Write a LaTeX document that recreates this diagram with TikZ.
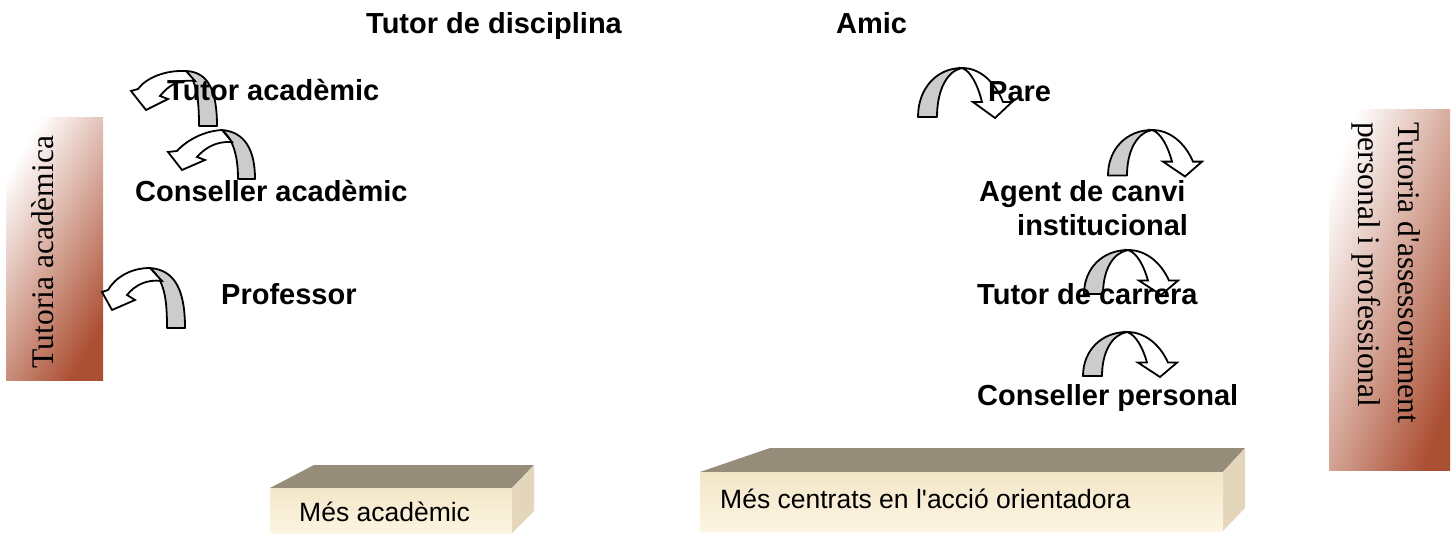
\documentclass[tikz,border=0pt]{standalone}
\usepackage{fontspec}
\setmainfont{Liberation Serif}[Ligatures=TeXOff]
\setsansfont{Liberation Sans}[Ligatures=TeXOff]
\definecolor{barbrown}{RGB}{172,80,52}
\definecolor{topface}{RGB}{150,140,122}
\definecolor{frontlight}{RGB}{253,245,226}
\definecolor{frontdark}{RGB}{243,230,200}
\definecolor{sideface}{RGB}{228,214,186}
\definecolor{ribbongray}{RGB}{204,204,204}
\tikzset{
  lbl/.style={font=\sffamily\bfseries\fontsize{29}{34}\selectfont, inner sep=0pt, anchor=base west},
  bartext/.style={font=\rmfamily\fontsize{31.5}{38}\selectfont, inner sep=0pt},
  boxtext/.style={font=\sffamily\fontsize{26.5}{32}\selectfont, inner sep=0pt, anchor=base west},
  ribbonback/.style={fill=ribbongray, draw=black, line width=1.8pt, line join=round},
  ribbonfront/.style={fill=white, draw=black, line width=1.8pt, line join=miter},
  curvedarrow/.pic={
    \path[ribbonback] (-44,49) .. controls (-44,20) and (-25,0) .. (0,0) .. controls (-15,3) and (-25,22) .. (-25,49) -- cycle;
    \path[ribbonfront] (0,0) .. controls (18,0) and (33,14) .. (41,34) -- (50,34) -- (33,50) -- (11,34) -- (20,34) .. controls (16,18) and (9,3) .. (0,0) -- cycle;
  }
}
\begin{document}
\begin{tikzpicture}[x=1pt,y=-1pt]
\useasboundingbox (0,0) rectangle (1456,534);
% side bars
\shade[left color=white, right color=barbrown, shading angle=60] (6,118) rectangle (103,381);
\shade[left color=white, right color=barbrown, shading angle=70] (1329,110) rectangle (1450,470);
\node[bartext, rotate=90, anchor=base] (lbar) at (53,252) {Tutoria acadèmica};
\node[bartext, rotate=-90, anchor=base west] (rbar1) at (1398,122) {Tutoria d'assessorament};
\node[bartext, rotate=-90, anchor=base west] (rbar2) at (1358,122) {personal i professional};
% left arrows
\path[ribbonback] (186,71) .. controls (208,72) and (217,90) .. (217,126) -- (199,126) .. controls (199,96) and (196,80) .. (186,71) -- cycle;
\path[ribbonfront] (186,71) .. controls (165,70) and (146,78) .. (138,89) -- (131,91) -- (146,110) -- (168,99) -- (160,96) .. controls (168,86) and (178,79) .. (195,81) -- cycle;
\path[ribbonback] (222,130) .. controls (245,132) and (255,150) .. (255,179) -- (238,179) .. controls (238,158) and (234,140) .. (222,130) -- cycle;
\path[ribbonfront] (222,130) .. controls (204,131) and (187,140) .. (177,151) -- (168,152) -- (182,170) -- (205,160) -- (197,157) .. controls (205,148) and (216,141) .. (232,142) -- cycle;
\path[ribbonback] (150,268) .. controls (175,270) and (185,290) .. (185,328) -- (167,328) .. controls (167,300) and (165,281) .. (150,268) -- cycle;
\path[ribbonfront] (150,268) .. controls (130,268) and (115,278) .. (108,290) -- (102,292) -- (112,310) -- (135,300) -- (127,295) .. controls (135,285) and (147,279) .. (162,281) -- cycle;
% right arrows
\pic at (962,68) {curvedarrow};
\pic[yscale=0.93] at (1152,130) {curvedarrow};
\pic[yscale=0.9] at (1128,250) {curvedarrow};
\pic[yscale=0.9] at (1127,332) {curvedarrow};
% labels
\node[lbl] (disc) at (366,34) {Tutor de disciplina};
\node[lbl] (amic) at (836,34) {Amic};
\node[lbl] (tacad) at (167,101) {Tutor acadèmic};
\node[lbl] (cacad) at (135,202) {Conseller acadèmic};
\node[lbl] (prof) at (221,305) {Professor};
\node[lbl] (pare) at (988,102) {Pare};
\node[lbl] (agent1) at (979,202) {Agent de canvi};
\node[lbl] (agent2) at (1017,236) {institucional};
\node[lbl] (tcarr) at (977,305) {Tutor de carrera};
\node[lbl] (cpers) at (977,405) {Conseller personal};
% boxes
\fill[topface] (270,488) -- (314,465) -- (534,465) -- (512,488) -- cycle;
\fill[sideface] (512,488) -- (534,465) -- (534,511) -- (512,533) -- cycle;
\shade[top color=frontdark, bottom color=frontlight] (270,488) rectangle (512,533);
\node[boxtext] (macad) at (299,521) {Més acadèmic};
\fill[topface] (700,472) -- (770,448) -- (1245,448) -- (1223,472) -- cycle;
\fill[sideface] (1223,472) -- (1245,448) -- (1245,508) -- (1223,531) -- cycle;
\shade[top color=frontdark, bottom color=frontlight] (700,472) rectangle (1223,531);
\node[boxtext] (mcentr) at (720,508) {Més centrats en l'acció orientadora};
\end{tikzpicture}
\end{document}
